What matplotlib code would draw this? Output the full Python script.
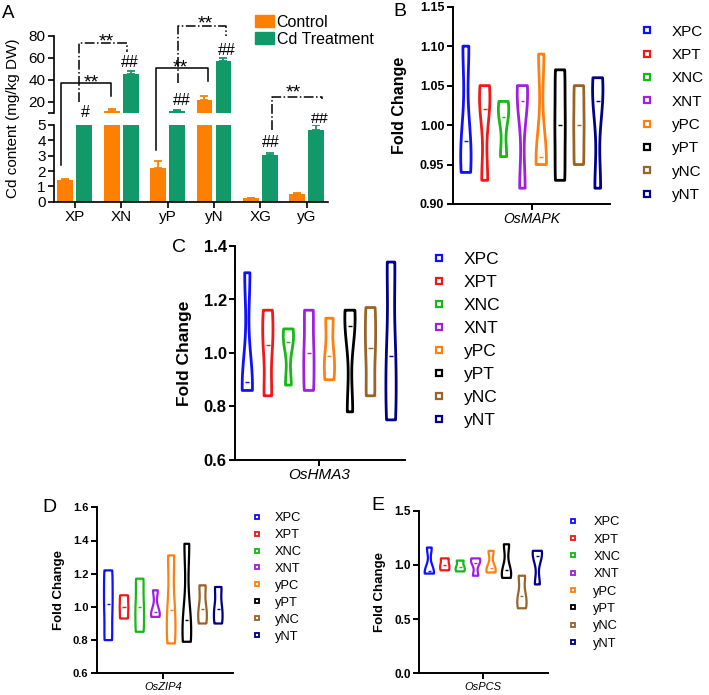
import numpy as np
import matplotlib
matplotlib.use('Agg')
import matplotlib.pyplot as plt
from matplotlib.patches import Patch
from matplotlib.lines import Line2D

plt.rcParams['font.family'] = 'Liberation Sans'

# ---- panel A data (Cd content) ----
groups = ['XP', 'XN', 'yP', 'yN', 'XG', 'yG']
ctrl = [1.42, 12.0, 2.2, 21.2, 0.22, 0.5]
ctrl_err = [0.05, 1.2, 0.45, 3.8, 0.03, 0.04]
cd = [7.5, 45.5, 12.0, 57.3, 3.05, 4.65]
cd_err = [0.0, 2.2, 0.6, 2.2, 0.15, 0.35]

# significance marks
hash_x = [0.22, 1.19, 2.30, 3.28, 4.23, 5.29]
hash_y = [10.9, 56.4, 22.2, 67.6, 3.91, 5.5]
hash_txt = ['#', '##', '##', '##', '##', '##']
hash_lower = [False, False, False, False, True, True]

br_x1 = [-0.30, 0.09, 2.22, 1.76, 4.25]
br_y1 = [2.39, 20.0, 36.7, 3.37, 4.67]
br_lower = [True, False, False, True, True]
br_top = [37.3, 73.1, 89.1, 50.9, 24.0]
br_x2 = [0.79, 1.13, 3.26, 2.88, 5.33]
br_y2 = [25.2, 65.5, 79.7, 39.1, 22.5]
br_style = ['-', '-.', '-.', '-', '-.']
star_x = [0.36, 0.68, 2.81, 2.28, 4.71]
star_y = [43.4, 80.6, 96.7, 56.4, 34.3]

# ---- violin data (3 replicates per group) ----
vlabels = ['XPC', 'XPT', 'XNC', 'XNT', 'yPC', 'yPT', 'yNC', 'yNT']
vcolors = ['#1010ff', '#f01818', '#18b818', '#a020e0', '#ff8010', '#000000', '#9a6428', '#000088']
mapk = [[0.94, 0.98, 1.10], [0.93, 1.02, 1.05], [0.96, 1.01, 1.03], [0.92, 1.03, 1.05],
        [0.95, 0.96, 1.09], [0.93, 1.00, 1.07], [0.95, 1.00, 1.05], [0.92, 1.03, 1.06]]
hma3 = [[0.86, 0.89, 1.30], [0.84, 1.03, 1.16], [0.88, 1.04, 1.09], [0.86, 1.00, 1.16],
        [0.90, 0.99, 1.13], [0.78, 1.10, 1.16], [0.84, 1.02, 1.17], [0.75, 0.99, 1.34]]
zip4 = [[0.80, 1.02, 1.22], [0.93, 1.00, 1.07], [0.85, 1.00, 1.17], [0.94, 0.97, 1.10],
        [0.78, 0.98, 1.31], [0.79, 0.92, 1.38], [0.90, 0.99, 1.13], [0.90, 0.99, 1.12]]
pcs = [[0.92, 0.94, 1.16], [0.95, 1.00, 1.06], [0.94, 0.98, 1.04], [0.90, 1.02, 1.06],
       [0.93, 0.97, 1.13], [0.88, 0.95, 1.19], [0.60, 0.71, 0.90], [0.82, 1.08, 1.13]]

W, H = 709, 695
fig = plt.figure(figsize=(W / 100, H / 100), dpi=100)


def box(l, t, r, b):
    return [l / W, 1 - b / H, (r - l) / W, (b - t) / H]


# ================= Panel A (broken axis) =================
orange, green = '#ff8000', '#12996a'
x = np.arange(len(groups))
bw, off = 0.34, 0.205
ax_lo = fig.add_axes(box(54, 125, 328, 201.7))
ax_up = fig.add_axes(box(54, 35.7, 328, 112.7))
for ax in (ax_lo, ax_up):
    ax.bar(x - off, ctrl, bw, color=orange)
    ax.bar(x + off, cd, bw, color=green)
    ax.errorbar(x - off, ctrl, yerr=[np.zeros(6), ctrl_err], fmt='none', ecolor=orange,
                capsize=3, elinewidth=1.3, capthick=1.3)
    ax.errorbar(x + off, cd, yerr=[np.zeros(6), cd_err], fmt='none', ecolor=green,
                capsize=3, elinewidth=1.3, capthick=1.3)
    ax.set_xlim(-0.45, 5.46)
    for s in ('top', 'right'):
        ax.spines[s].set_visible(False)
    ax.spines['left'].set_linewidth(1.2)
    ax.spines['bottom'].set_linewidth(1.2)
    ax.tick_params(direction='out', length=4, width=1.2, labelsize=11, pad=2)

ax_lo.set_ylim(0, 5)
ax_lo.set_yticks(range(6))
ax_lo.set_xticks(x)
ax_lo.set_xticklabels(groups)
ax_up.set_ylim(10, 80)
ax_up.set_yticks([20, 40, 60, 80])
ax_up.set_yticks([10], minor=True)
ax_up.tick_params(which='minor', length=4, width=1.2)
ax_up.spines['bottom'].set_visible(False)
ax_up.set_xticks([])
fig.text(13 / W, 1 - 118 / H, 'Cd content (mg/kg DW)', rotation=90, ha='center', va='center',
         fontsize=11)


def lo_to_up(xv, yv):
    d = ax_lo.transData.transform((xv, yv))
    return ax_up.transData.inverted().transform(d)[1]


for i in range(len(br_x1)):
    y1 = lo_to_up(br_x1[i], br_y1[i]) if br_lower[i] else br_y1[i]
    ax_up.plot([br_x1[i], br_x1[i], br_x2[i], br_x2[i]], [y1, br_top[i], br_top[i], br_y2[i]],
               color='black', lw=1.1, ls=br_style[i], clip_on=False)
    ax_up.annotate('**', (star_x[i], star_y[i]), xytext=(0, -8), textcoords='offset points',
                   ha='center', va='baseline', fontsize=14, annotation_clip=False)

for i in range(len(hash_x)):
    a = ax_lo if hash_lower[i] else ax_up
    a.annotate(hash_txt[i], (hash_x[i], hash_y[i]), xytext=(0, -4), textcoords='offset points',
               ha='center', va='baseline', fontsize=11.5, annotation_clip=False)

fig.legend([Patch(color=orange), Patch(color=green)], ['Control', 'Cd Treatment'],
           loc='upper left', bbox_to_anchor=(255 / W, 1 - 14.6 / H), frameon=False,
           borderpad=0, borderaxespad=0, handlelength=1.19, handleheight=0.8,
           handletextpad=0.17, labelspacing=0.13, fontsize=11.5)


# ================= Violin panels =================
def violin_panel(rect, data, ylim, yticks, yfmt, gene, xlim, width, fs_tick, fs_lab, fs_leg,
                 lab_x, leg_pos, leg_pad, leg_space, ms, lw):
    ax = fig.add_axes(rect)
    pos = np.arange(len(data))
    parts = ax.violinplot(data, positions=pos, widths=width, showextrema=False, bw_method=0.5)
    for body, c in zip(parts['bodies'], vcolors):
        body.set_facecolor('none')
        body.set_edgecolor(c)
        body.set_linewidth(lw)
        body.set_alpha(1)
    meds = [np.median(d) for d in data]
    ax.hlines(meds, pos - 0.1, pos + 0.1, colors=vcolors, lw=1)
    ax.set_xlim(*xlim)
    ax.set_ylim(*ylim)
    ax.set_yticks(yticks)
    ax.set_yticklabels([yfmt.format(v) for v in yticks], fontweight='bold', fontsize=fs_tick)
    ax.set_xticks([3.5])
    ax.set_xticklabels([gene], fontstyle='italic', fontsize=fs_lab - 1.5)
    for s in ('top', 'right'):
        ax.spines[s].set_visible(False)
    ax.spines['left'].set_linewidth(1.4)
    ax.spines['bottom'].set_linewidth(1.4)
    ax.tick_params(direction='out', length=4, width=1.4, pad=2)
    ax.set_ylabel('Fold Change', fontweight='bold', fontsize=fs_lab)
    ax.yaxis.set_label_coords(lab_x, 0.5)
    handles = [Line2D([], [], ls='none', marker='s', ms=ms, mfc='white', mec=c, mew=ms * 0.4)
               for c in vcolors]
    ax.legend(handles, vlabels, loc='upper left', bbox_to_anchor=(leg_pos[0] / W, 1 - leg_pos[1] / H),
              bbox_transform=fig.transFigure, frameon=False, borderpad=0, borderaxespad=0,
              handlelength=1.0, handletextpad=leg_pad, labelspacing=leg_space, fontsize=fs_leg)
    return ax


violin_panel(box(452.7, 6.7, 610, 204), mapk, (0.90, 1.15), [0.90, 0.95, 1.00, 1.05, 1.10, 1.15],
             '{:.2f}', 'OsMAPK', (-0.7, 7.65), 0.55, 9, 11.5, 11, -0.29,
             (639.3, 24.7), 1.14, 0.61, 4.0, 2.0)
violin_panel(box(235, 246, 405, 460), hma3, (0.6, 1.4), [0.6, 0.8, 1.0, 1.2, 1.4],
             '{:.1f}', 'OsHMA3', (-0.6, 7.68), 0.5, 12, 12.5, 12.5, -0.255,
             (430.3, 252), 0.94, 0.45, 4.0, 2.0)
violin_panel(box(96.7, 507.3, 233, 673.3), zip4, (0.6, 1.6), [0.6, 0.8, 1.0, 1.2, 1.4, 1.6],
             '{:.1f}', 'OsZIP4', (-0.74, 7.94), 0.55, 8, 9.5, 9.3, -0.233,
             (250.3, 512.2), 0.92, 0.376, 3.3, 1.6)
violin_panel(box(419.3, 510.7, 548.3, 673.3), pcs, (0.0, 1.5), [0.0, 0.5, 1.0, 1.5],
             '{:.1f}', 'OsPCS', (-0.65, 7.71), 0.6, 8.5, 9.5, 9.3, -0.258,
             (566.9, 516.2), 1.05, 0.41, 3.3, 1.6)

# panel letters
for lt, px, py, fs in [('A', 8, 13, 13.5), ('B', 400, 11, 14), ('C', 179, 248, 14),
                       ('D', 49, 507, 14), ('E', 378, 506, 14)]:
    fig.text(px / W, 1 - py / H, lt, ha='center', va='center', fontsize=fs)

fig.savefig('out.png', dpi=100)
